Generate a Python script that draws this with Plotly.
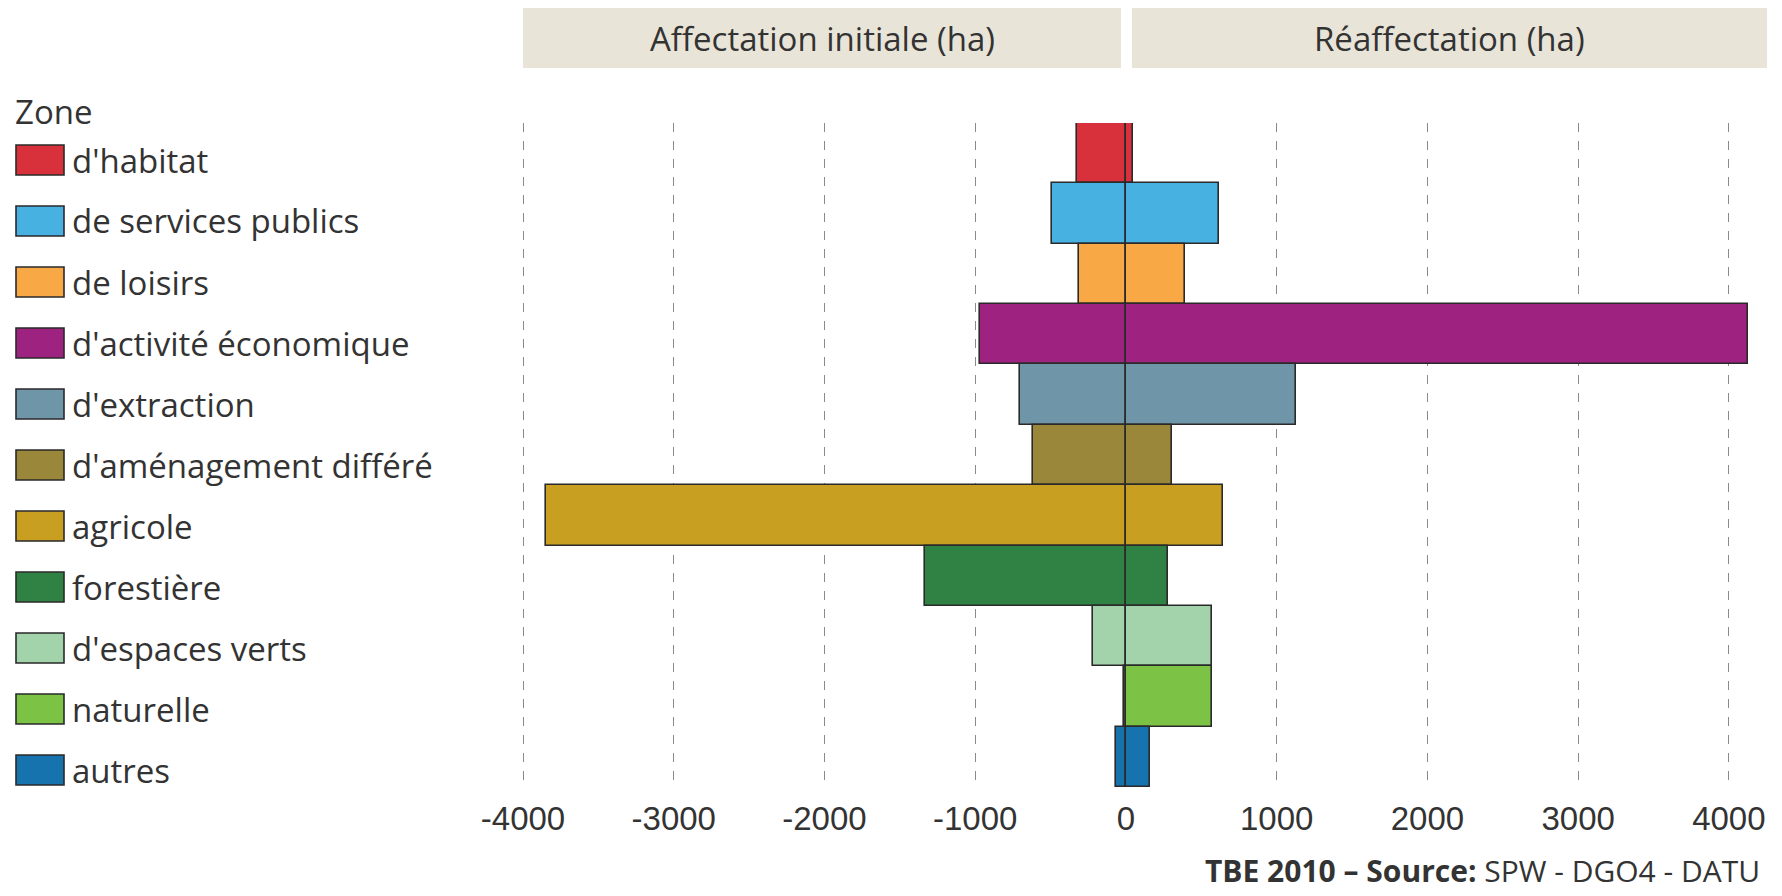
import plotly.graph_objects as go

# ---- data ----
categories = ["d'habitat", "de services publics", "de loisirs", "d'activité économique",
              "d'extraction", "d'aménagement différé", "agricole", "forestière",
              "d'espaces verts", "naturelle", "autres"]
initial = [-328, -490, -312, -969, -703, -617, -3849, -1331, -221, -15, -65]
reaffect = [44, 615, 392, 4130, 1128, 305, 644, 278, 571, 571, 162]
colors = ["#d8313c", "#47b1e2", "#f8a845", "#9e2381", "#6f95a8", "#9a873a",
          "#c99f21", "#2f8244", "#a2d3aa", "#7cc245", "#1673ae"]
tick_vals = [-4000, -3000, -2000, -1000, 0, 1000, 2000, 3000, 4000]
tick_text = ["-4000", "-3000", "-2000", "-1000", "0", "1000", "2000", "3000", "4000"]
headers = ["Affectation initiale (ha)", "Réaffectation (ha)"]
legend_title = "Zone"
footer = "<b>TBE 2010 – Source:</b> SPW - DGO4 - DATU"

# page body has an 8px margin, so the figure is sized to fit the window
OFF = 8
W, H = 1782 - OFF, 896 - OFF
L, R, T, B = 512, 15, 115, 109
PW, PH = W - L - R, H - T - B

def px_x(px):
    return (px - OFF - L) / PW

def px_y(py):
    return (H - B - (py - OFF)) / PH

edge = dict(color="#2a2a2a", width=1.6)
fig = go.Figure()
fig.add_trace(go.Bar(y=categories, x=initial, orientation="h",
                     marker=dict(color=colors, line=edge), showlegend=False))
fig.add_trace(go.Bar(y=categories, x=reaffect, orientation="h",
                     marker=dict(color=colors, line=edge), showlegend=False))

shapes = []
annotations = []
# header boxes
hdr_boxes = [(523, 1121), (1132, 1767)]
for (x0, x1), txt in zip(hdr_boxes, headers):
    shapes.append(dict(type="rect", xref="paper", yref="paper",
                       x0=px_x(x0), x1=px_x(x1), y0=px_y(68), y1=px_y(8),
                       fillcolor="#e9e4d8", line=dict(width=0), layer="below"))
    annotations.append(dict(xref="paper", yref="paper", x=px_x((x0 + x1) / 2), y=px_y(39),
                            text=txt, showarrow=False, xanchor="center", yanchor="middle",
                            font=dict(family="Open Sans", size=33, color="#333333")))

# legend (manual, large swatches)
annotations.append(dict(xref="paper", yref="paper", x=px_x(13), y=px_y(111),
                        text=legend_title, showarrow=False, xanchor="left", yanchor="middle",
                        font=dict(family="Open Sans", size=33, color="#333333")))
for i, (cat, col) in enumerate(zip(categories, colors)):
    cy = 160 + i * 61.0
    shapes.append(dict(type="rect", xref="paper", yref="paper",
                       x0=px_x(16), x1=px_x(64), y0=px_y(cy + 15), y1=px_y(cy - 15),
                       fillcolor=col, line=dict(color="#2a2a2a", width=1.6)))
    annotations.append(dict(xref="paper", yref="paper", x=px_x(70), y=px_y(cy),
                            text=cat, showarrow=False, xanchor="left", yanchor="middle",
                            font=dict(family="Open Sans", size=33, color="#333333")))

annotations.append(dict(xref="paper", yref="paper", x=px_x(1762), y=px_y(870),
                        text=footer, showarrow=False, xanchor="right", yanchor="middle",
                        font=dict(family="Open Sans", size=30, color="#333333")))

fig.update_layout(
    width=W, height=H,
    margin=dict(l=L, r=R, t=T, b=B, pad=0),
    paper_bgcolor="white", plot_bgcolor="white",
    barmode="relative", bargap=0,
    showlegend=False,
    shapes=shapes, annotations=annotations,
    xaxis=dict(range=[-4020, 4253], tickvals=tick_vals, ticktext=tick_text,
               showgrid=True, gridcolor="#8a8a8a", griddash="dash", gridwidth=1,
               zeroline=False, showline=False,
               ticks="outside", ticklen=2, tickcolor="rgba(0,0,0,0)",
               tickfont=dict(family="Liberation Sans Narrow, Liberation Sans, Arial", size=33, color="#333333")),
    yaxis=dict(categoryorder="array", categoryarray=categories, autorange="reversed",
               showticklabels=False, showgrid=False, zeroline=False, showline=False,
               range=[10.5, -0.5]),
)

fig.write_html("out.html")
